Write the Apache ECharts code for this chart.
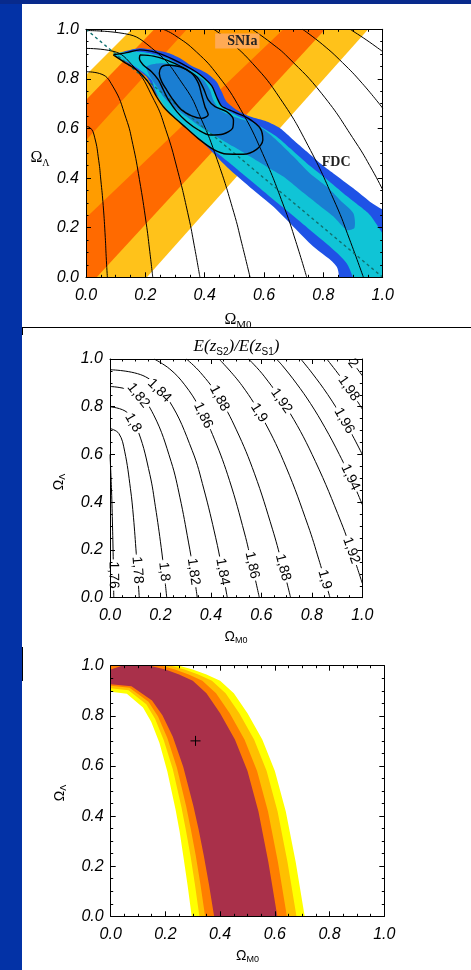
<!DOCTYPE html>
<html><head><meta charset="utf-8">
<script src="https://cdn.jsdelivr.net/npm/echarts@6.0.0/dist/echarts.min.js"></script>
<style>
html,body{margin:0;padding:0;width:471px;height:970px;overflow:hidden;background:#0332a6;}
#topstrip{position:absolute;left:0;top:0;width:471px;height:4px;background:#082a8c;}
#panel{position:absolute;left:22px;top:4px;width:449px;height:966px;background:#fff;}
#hline{position:absolute;left:22px;top:327px;width:449px;height:1px;background:#000;}
#v1{position:absolute;left:22px;top:327px;width:1px;height:8px;background:#000;}
#v2{position:absolute;left:22px;top:647px;width:1px;height:34px;background:#000;}
#chart{position:absolute;left:0;top:0;width:471px;height:970px;}
</style></head><body>
<div id="topstrip"></div><div id="panel"></div><div id="hline"></div><div id="v1"></div><div id="v2"></div>
<div id="chart"></div>
<script>
// ================= DATA =================
const AXIS_TICKS = [0, 0.2, 0.4, 0.6, 0.8, 1.0];

// ---- Panel 1: SNIa band boundary lines (two read points each, [Ωm, ΩΛ]) ----
const SN_LINES = [
  [[0, 0.816], [0.154, 1]],
  [[0, 0.715], [0.23, 1]],
  [[0, 0.553], [0.34, 1]],
  [[0, 0.24], [0.665, 1]],
  [[0.036, 0], [0.806, 1]],
  [[0.205, 0], [0.951, 1]]
];
const SN_BAND_PAIRS = [[0, 5], [1, 4], [2, 3]];

// ---- Panel 1: FDC confidence regions ----
const FDC_OUTER = [[0.098,0.897],[0.176,0.923],[0.272,0.906],[0.317,0.883],[0.351,0.856],[0.407,0.823],[0.44,0.789],[0.457,0.749],[0.474,0.708],[0.508,0.675],[0.553,0.648],[0.609,0.628],[0.654,0.601],[0.699,0.554],[0.744,0.507],[0.789,0.46],[0.834,0.419],[0.901,0.359],[0.957,0.305],[1.05,0.22],[1.05,-0.08],[0.87,-0.08],[0.845,0.043],[0.766,0.124],[0.699,0.204],[0.631,0.285],[0.564,0.352],[0.474,0.446],[0.407,0.527],[0.362,0.581],[0.317,0.634],[0.272,0.688],[0.238,0.735],[0.221,0.776],[0.204,0.809],[0.16,0.849],[0.115,0.883]];
const FDC_MID = [[0.092,0.901],[0.16,0.91],[0.216,0.903],[0.272,0.883],[0.317,0.856],[0.384,0.816],[0.418,0.782],[0.435,0.742],[0.452,0.702],[0.485,0.668],[0.53,0.641],[0.587,0.608],[0.643,0.567],[0.688,0.52],[0.744,0.46],[0.8,0.406],[0.867,0.339],[0.924,0.285],[0.957,0.251],[1.0,0.177],[1.05,0.1],[1.05,-0.08],[0.935,-0.08],[0.879,0.056],[0.822,0.124],[0.755,0.191],[0.688,0.258],[0.62,0.325],[0.553,0.392],[0.485,0.46],[0.429,0.513],[0.373,0.567],[0.328,0.614],[0.283,0.661],[0.249,0.715],[0.233,0.755],[0.221,0.796],[0.182,0.836],[0.137,0.87],[0.103,0.887]];
const FDC_IN = [[0.204,0.849],[0.249,0.863],[0.294,0.856],[0.351,0.829],[0.396,0.796],[0.418,0.755],[0.429,0.715],[0.452,0.675],[0.497,0.648],[0.564,0.621],[0.609,0.587],[0.654,0.54],[0.699,0.487],[0.755,0.419],[0.811,0.366],[0.856,0.312],[0.901,0.258],[0.905,0.2],[0.879,0.191],[0.834,0.245],[0.778,0.298],[0.721,0.352],[0.665,0.406],[0.609,0.446],[0.553,0.487],[0.497,0.527],[0.44,0.567],[0.384,0.608],[0.339,0.648],[0.294,0.688],[0.261,0.728],[0.238,0.769],[0.216,0.809]];
const FDC_C3 = [[0.092,0.897],[0.137,0.906],[0.182,0.917],[0.238,0.906],[0.294,0.879],[0.351,0.843],[0.39,0.812],[0.424,0.772],[0.44,0.728],[0.457,0.691],[0.497,0.668],[0.547,0.641],[0.587,0.601],[0.596,0.554],[0.575,0.516],[0.53,0.496],[0.474,0.497],[0.429,0.516],[0.384,0.554],[0.339,0.601],[0.294,0.648],[0.261,0.688],[0.238,0.728],[0.221,0.766],[0.204,0.796],[0.171,0.836],[0.126,0.87],[0.092,0.897]];
const FDC_C2 = [[0.182,0.897],[0.227,0.892],[0.272,0.876],[0.322,0.849],[0.373,0.809],[0.396,0.762],[0.412,0.715],[0.435,0.688],[0.474,0.668],[0.497,0.634],[0.494,0.601],[0.463,0.578],[0.418,0.574],[0.379,0.594],[0.339,0.628],[0.306,0.668],[0.278,0.715],[0.261,0.755],[0.244,0.796],[0.221,0.829],[0.193,0.856],[0.18,0.883],[0.182,0.897]];
const FDC_C1 = [[0.272,0.856],[0.317,0.849],[0.356,0.823],[0.379,0.782],[0.39,0.735],[0.401,0.688],[0.412,0.655],[0.39,0.641],[0.356,0.651],[0.322,0.675],[0.294,0.715],[0.272,0.755],[0.255,0.789],[0.247,0.823],[0.255,0.849],[0.272,0.856]];

// ---- Panel 1: iso-curves and flat-universe line ----
const ARCS_TOP = [
  [[0,0.608],[0.014,0.603],[0.029,0.565],[0.043,0.47],[0.05,0.392],[0.058,0.289],[0.065,0.16],[0.068,0.084],[0.072,0]],
  [[0,0.829],[0.045,0.822],[0.09,0.771],[0.135,0.641],[0.158,0.535],[0.18,0.395],[0.203,0.218],[0.214,0.114],[0.225,0]],
  [[0,0.923],[0.077,0.915],[0.154,0.858],[0.23,0.713],[0.269,0.595],[0.307,0.439],[0.346,0.243],[0.365,0.127],[0.384,0]],
  [[0,0.995],[0.111,0.986],[0.221,0.925],[0.332,0.769],[0.387,0.642],[0.442,0.474],[0.498,0.262],[0.525,0.137],[0.553,0]],
  [[0.26,1.0],[0.298,0.977],[0.372,0.909],[0.446,0.812],[0.521,0.677],[0.595,0.5],[0.67,0.276],[0.707,0.145],[0.744,0]],
  [[0.43,1.0],[0.468,0.967],[0.561,0.863],[0.655,0.72],[0.748,0.532],[0.842,0.294],[0.888,0.154],[0.935,0]],
  [[0.56,1.0],[0.624,0.945],[0.681,0.887],[0.795,0.74],[0.908,0.546],[0.965,0.432],[1.0,0.353]],
  [[0.73,1.0],[0.798,0.938],[0.865,0.865],[0.931,0.782],[1.0,0.682]],
  [[0.89,1.0],[0.944,0.958],[1.0,0.91]]
];
const FLAT_LINE = [[0, 1], [1, 0]];
const TOP_TEXT = [['SNIa', 0.51, 0.953], ['FDC', 0.843, 0.465]];

// ---- Panel 2: E(zS2)/E(zS1) contours ----
const E_LEVELS = ['1,76','1,78','1,8','1,82','1,84','1,86','1,88','1,9','1,92','1,94','1,96','1,98','2'];
const E_CURVES = [
  [[0,0.6],[0.006,0.45],[0.01,0.3],[0.013,0.15],[0.015,0]],
  [[0,0.709],[0.035,0.688],[0.058,0.614],[0.081,0.457],[0.093,0.337],[0.104,0.186],[0.11,0.098],[0.116,0]],
  [[0,0.8],[0.068,0.776],[0.113,0.693],[0.158,0.516],[0.18,0.381],[0.203,0.21],[0.214,0.11],[0.225,0]],
  [[0,0.885],[0.104,0.858],[0.173,0.766],[0.242,0.571],[0.277,0.421],[0.311,0.233],[0.329,0.122],[0.346,0]],
  [[0,0.955],[0.14,0.926],[0.233,0.827],[0.326,0.616],[0.372,0.455],[0.419,0.251],[0.442,0.132],[0.465,0]],
  [[0.175,1.0],[0.237,0.958],[0.296,0.892],[0.355,0.796],[0.414,0.664],[0.474,0.49],[0.533,0.271],[0.562,0.142],[0.592,0]],
  [[0.303,1.0],[0.358,0.944],[0.43,0.843],[0.501,0.703],[0.573,0.519],[0.644,0.287],[0.68,0.15],[0.716,0]],
  [[0.432,1.0],[0.523,0.889],[0.61,0.742],[0.698,0.547],[0.785,0.302],[0.828,0.159],[0.872,0]],
  [[0.549,1.0],[0.611,0.928],[0.713,0.774],[0.814,0.571],[0.916,0.316],[0.967,0.166],[1.0,0.06]],
  [[0.659,1.0],[0.682,0.974],[0.738,0.899],[0.795,0.813],[0.852,0.713],[0.909,0.6],[0.966,0.474],[1.0,0.39]],
  [[0.756,1.0],[0.801,0.941],[0.863,0.851],[0.925,0.747],[0.962,0.678],[1.0,0.6]],
  [[0.859,1.0],[0.911,0.929],[0.965,0.848],[1.0,0.79]],
  [[0.95,1.0],[0.975,0.966],[1.0,0.93]]
];
const E_LABELS = [
  [2,0.086,0.73],[3,0.106,0.842],[4,0.185,0.856],[5,0.343,0.751],[6,0.396,0.814],[7,0.555,0.751],[8,0.627,0.786],
  [9,0.931,0.493],[10,0.898,0.723],[11,0.918,0.856],[12,0.938,0.961],
  [0,0.02,0.095],[1,0.112,0.116],[2,0.218,0.109],[3,0.33,0.109],[4,0.449,0.109],[5,0.568,0.137],[6,0.697,0.13],[7,0.845,0.074],[8,0.944,0.193]
];

// ---- Panel 3: confidence bands (outer to inner) ----
const LENS_LEFT = [
  [[-0.1,0.896],[0,0.896],[0.059,0.888],[0.118,0.833],[0.148,0.776],[0.178,0.693],[0.207,0.578],[0.237,0.426],[0.252,0.337],[0.266,0.236],[0.281,0.124],[0.296,0]],
  [[-0.1,0.91],[0,0.91],[0.065,0.902],[0.13,0.846],[0.162,0.788],[0.194,0.703],[0.227,0.587],[0.259,0.433],[0.275,0.342],[0.292,0.239],[0.308,0.126],[0.324,0]],
  [[-0.1,0.92],[0,0.92],[0.069,0.912],[0.138,0.856],[0.173,0.797],[0.207,0.711],[0.242,0.593],[0.276,0.438],[0.293,0.346],[0.311,0.242],[0.328,0.127],[0.345,0]],
  [[-0.1,0.926],[0,0.926],[0.076,0.918],[0.151,0.861],[0.189,0.802],[0.227,0.716],[0.265,0.597],[0.302,0.441],[0.321,0.348],[0.34,0.244],[0.359,0.128],[0.378,0]]
];
const LENS_RIGHT = [
  [[-0.1,0.985],[-0.05,1.01],[0,1.025],[0.05,1.04],[0.1,1.046],[0.15,1.045],[0.2,1.03],[0.25,1.0],[0.3,0.985],[0.35,0.965],[0.4,0.94],[0.45,0.89],[0.5,0.81],[0.554,0.706],[0.6,0.58],[0.64,0.418],[0.676,0.218],[0.709,0]],
  [[-0.1,0.97],[-0.05,0.995],[0,1.012],[0.05,1.024],[0.1,1.03],[0.15,1.028],[0.2,1.012],[0.22,1.0],[0.27,0.985],[0.32,0.965],[0.37,0.94],[0.42,0.89],[0.47,0.81],[0.524,0.706],[0.57,0.58],[0.61,0.418],[0.646,0.218],[0.679,0]],
  [[-0.1,0.95],[-0.05,0.98],[0,1.0],[0.05,1.012],[0.1,1.016],[0.15,1.012],[0.185,1.0],[0.235,0.985],[0.285,0.965],[0.335,0.94],[0.385,0.89],[0.435,0.81],[0.489,0.706],[0.535,0.58],[0.575,0.418],[0.611,0.218],[0.644,0]],
  [[-0.1,0.92],[-0.05,0.955],[0,0.985],[0.05,1.003],[0.1,1.004],[0.15,0.998],[0.2,0.985],[0.25,0.965],[0.3,0.94],[0.35,0.89],[0.4,0.81],[0.454,0.706],[0.5,0.58],[0.54,0.418],[0.576,0.218],[0.609,0]]
];
const BEST_FIT = [[0.31, 0.70]];

// ================= STYLE =================
const SN_COLORS = ['#FFC21A', '#FF6A00', '#FF9C00'];
const FDC_COLORS = ['#1F52E6', '#10C4D6', '#1A7ED2'];
const LENS_COLORS = ['#FFFF00', '#FFC000', '#FF7F00', '#A9304A'];
const SERIF = '"Liberation Serif","Times New Roman",serif';
const SANS = '"Liberation Sans",Arial,sans-serif';

const GRIDS = [
  {left: 86, top: 29.3, width: 296.7, height: 248},
  {left: 110, top: 359, width: 252.3, height: 238.7},
  {left: 110.7, top: 665.7, width: 273.6, height: 250.6}
];

function mkAxes(gi) {
  const base = {
    type: 'value', gridIndex: gi, min: AXIS_TICKS[0], max: AXIS_TICKS[AXIS_TICKS.length-1],
    interval: AXIS_TICKS[1] - AXIS_TICKS[0], z: 10,
    splitLine: {show: false}, minorSplitLine: {show: false},
    axisLine: {show: true, onZero: false, lineStyle: {color: '#000', width: 1}},
    axisTick: {show: true, inside: true, length: 5, lineStyle: {color: '#000', width: 1}},
    minorTick: {show: true, splitNumber: 4, length: 2.5, lineStyle: {color: '#000', width: 1}}
  };
  const lab = {show: true, color: '#000', fontFamily: 'Liberation Sans', fontStyle: 'italic', fontSize: 16,
    formatter: v => v.toFixed(1)};
  return {
    x: [Object.assign({}, base, {position: 'bottom', axisLabel: Object.assign({}, lab, {margin: 10})}),
        Object.assign({}, base, {position: 'top', axisLabel: {show: false}})],
    y: [Object.assign({}, base, {position: 'left', axisLabel: Object.assign({}, lab, {margin: 7})}),
        Object.assign({}, base, {position: 'right', axisLabel: {show: false}})]
  };
}
const xAxes = [], yAxes = [];
GRIDS.forEach((g, i) => { const a = mkAxes(i); xAxes.push(...a.x); yAxes.push(...a.y); });

function mAt(line, L) {
  const [p, q] = line;
  return p[0] + (L - p[1]) * (q[0] - p[0]) / (q[1] - p[1]);
}

function polySeries(gi, polys, colors, z, smooth) {
  return {
    type: 'custom', xAxisIndex: gi*2, yAxisIndex: gi*2, clip: true, z: z, silent: true,
    data: polys.map((p, i) => [i]),
    renderItem: (params, api) => ({
      type: 'polygon',
      shape: {points: polys[params.dataIndex].map(p => api.coord(p)), smooth: smooth || 0},
      style: {fill: colors[params.dataIndex], stroke: null}
    })
  };
}
function lineSeries(gi, pts, style, z, smooth) {
  return {type: 'line', xAxisIndex: gi*2, yAxisIndex: gi*2, data: pts, showSymbol: false, symbol: 'none',
    smooth: smooth, clip: true, z: z, silent: true, lineStyle: style, animation: false};
}

const series = [];
const snPolys = SN_BAND_PAIRS.map(([a, b]) => {
  const A = SN_LINES[a], B = SN_LINES[b];
  return [[mAt(A, -0.4), -0.4], [mAt(A, 1.4), 1.4], [mAt(B, 1.4), 1.4], [mAt(B, -0.4), -0.4]];
});
series.push(polySeries(0, snPolys, SN_COLORS, 1, 0));
series.push(polySeries(0, [FDC_OUTER, FDC_MID, FDC_IN], FDC_COLORS, 2, 0.25));
ARCS_TOP.forEach(a => series.push(lineSeries(0, a, {color: '#000', width: 1}, 3, 0.5)));
series.push(lineSeries(0, FLAT_LINE, {color: '#11706f', width: 1.4, type: [3, 3]}, 3, false));
[FDC_C3, FDC_C2, FDC_C1].forEach(c => series.push(lineSeries(0, c, {color: '#000', width: 1.4}, 4, 0.3)));
series.push({
  type: 'custom', xAxisIndex: 0, yAxisIndex: 0, z: 6, silent: true, data: TOP_TEXT.map((t, i) => [i]),
  renderItem: (params, api) => {
    const t = TOP_TEXT[params.dataIndex];
    const p = api.coord([t[1], t[2]]);
    return {type: 'text', x: p[0], y: p[1], style: {text: t[0], font: 'bold 14px ' + SERIF, fill: '#222',
      align: 'center', verticalAlign: 'middle', textAlign: 'center', textVerticalAlign: 'middle',
      backgroundColor: params.dataIndex === 0 ? '#FFAA55' : null, padding: params.dataIndex === 0 ? [1, 2, 0, 12] : 0}};
  }
});

E_CURVES.forEach(c => series.push(lineSeries(1, c, {color: '#000', width: 1}, 2, 0.4)));
function nearest(pts, q) {
  let best = null;
  for (let i = 0; i < pts.length - 1; i++) {
    const a = pts[i], b = pts[i+1];
    const dx = b[0]-a[0], dy = b[1]-a[1];
    const l2 = dx*dx + dy*dy || 1;
    let t = ((q[0]-a[0])*dx + (q[1]-a[1])*dy) / l2;
    t = Math.max(0, Math.min(1, t));
    const p = [a[0]+t*dx, a[1]+t*dy];
    const d = (p[0]-q[0])**2 + (p[1]-q[1])**2;
    if (!best || d < best.d) best = {d, p, ang: Math.atan2(dy, dx)};
  }
  return best;
}
series.push({
  type: 'custom', xAxisIndex: 2, yAxisIndex: 2, z: 5, silent: true, data: E_LABELS.map((l, i) => [i]),
  renderItem: (params, api) => {
    const [li, m, l] = E_LABELS[params.dataIndex];
    const pts = E_CURVES[li].map(p => api.coord(p));
    const n = nearest(pts, api.coord([m, l]));
    return {type: 'text', x: n.p[0], y: n.p[1], rotation: -n.ang,
      style: {text: E_LEVELS[li], font: '14px ' + SANS, fill: '#000', align: 'center', verticalAlign: 'middle',
        textAlign: 'center', textVerticalAlign: 'middle', backgroundColor: '#fff', padding: [0, 2]}};
  }
});

const lensPolys = LENS_LEFT.map((L, k) => {
  const R = LENS_RIGHT[k];
  const lEnd = L[L.length-1], rEnd = R[R.length-1];
  return [[-0.3, 1.4]].concat(L, [[lEnd[0]+0.01, -0.3], [rEnd[0]+0.01, -0.3]], R.slice().reverse(), [[-0.3, 1.4]]);
});
series.push(polySeries(2, lensPolys, LENS_COLORS, 1, 0));
series.push({
  type: 'custom', xAxisIndex: 4, yAxisIndex: 4, z: 5, silent: true, data: BEST_FIT,
  renderItem: (params, api) => {
    const p = api.coord([api.value(0), api.value(1)]);
    const s = {stroke: '#000', lineWidth: 1};
    return {type: 'group', children: [
      {type: 'line', shape: {x1: p[0]-5, y1: p[1], x2: p[0]+5, y2: p[1]}, style: s},
      {type: 'line', shape: {x1: p[0], y1: p[1]-5, x2: p[0], y2: p[1]+5}, style: s}
    ]};
  }
});

const mctx = document.createElement('canvas').getContext('2d');
function tw(t, f) { mctx.font = f; return mctx.measureText(t).width; }
function compose(cx, cy, parts, rotation) {
  const total = parts.reduce((s, p) => s + tw(p[0], p[1]), 0);
  let x = -total / 2; const children = [];
  parts.forEach(p => {
    children.push({type: 'text', x: x, y: p[2], style: {text: p[0], font: p[1], fill: '#000',
      align: 'left', verticalAlign: 'middle', textAlign: 'left', textVerticalAlign: 'middle'}});
    x += tw(p[0], p[1]);
  });
  return {type: 'group', x: cx, y: cy, rotation: rotation || 0, children, z: 20};
}
const graphic = [
  compose(40, 158, [['Ω', '16px ' + SERIF, 0], ['Λ', '10px ' + SERIF, 5]]),
  compose(238, 320, [['Ω', '16px ' + SERIF, 0], ['M0', '11px ' + SERIF, 5]]),
  compose(236.5, 347, [['E(z', 'italic 17px ' + SERIF, 0], ['S2', '10px ' + SANS, 5], [')/E(z', 'italic 17px ' + SERIF, 0], ['S1', '10px ' + SANS, 5], [')', 'italic 17px ' + SERIF, 0]]),
  compose(236, 637, [['Ω', '14px ' + SANS, 0], ['M0', '9px ' + SANS, 4]]),
  compose(59, 482, [['Ω', '14px ' + SANS, 0], ['Λ', '9px ' + SANS, 4]], Math.PI / 2),
  compose(247.5, 956, [['Ω', '14px ' + SANS, 0], ['M0', '9px ' + SANS, 4]]),
  compose(60, 793, [['Ω', '14px ' + SANS, 0], ['Λ', '9px ' + SANS, 4]], Math.PI / 2)
];

const chart = echarts.init(document.getElementById('chart'), null, {renderer: 'canvas'});
chart.setOption({
  animation: false,
  backgroundColor: 'transparent',
  grid: GRIDS.map(g => Object.assign({show: false, containLabel: false}, g)),
  xAxis: xAxes, yAxis: yAxes,
  series: series,
  graphic: graphic
});
</script>
</body></html>
